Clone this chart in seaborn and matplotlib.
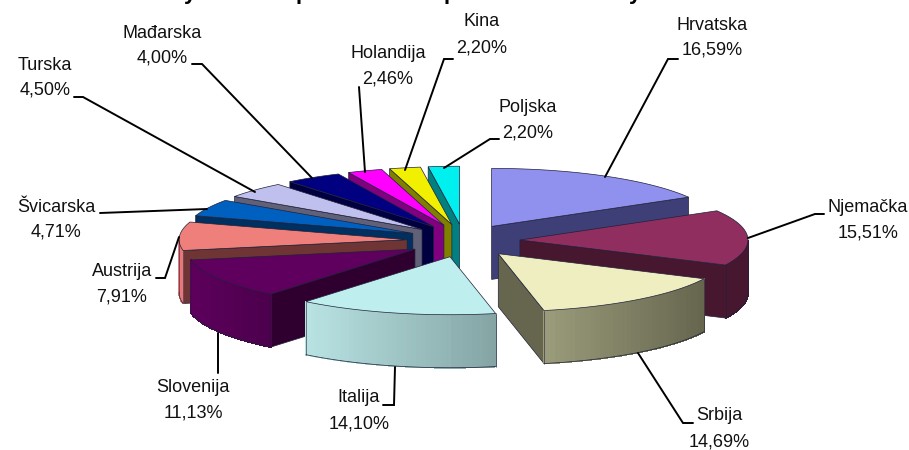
import numpy as np
import matplotlib
matplotlib.use('Agg')
import matplotlib.pyplot as plt
import seaborn as sns

countries = ['Hrvatska', 'Njemačka', 'Srbija', 'Italija', 'Slovenija', 'Austrija',
             'Švicarska', 'Turska', 'Mađarska', 'Holandija', 'Kina', 'Poljska']
shares = [16.59, 15.51, 14.69, 14.10, 11.13, 7.91, 4.71, 4.50, 4.00, 2.46, 2.20, 2.20]

top_colors = ['#9090ee', '#8f2e5f', '#eeeec0', '#bfeeee', '#5f005f', '#ee7f7a',
              '#0060c0', '#c0c0ee', '#000080', '#ff00ff', '#f0f000', '#00f0f0']
wall_colors = ['#3f3f77', '#47172f', '#66664f', '#7f9f9f', '#2f002f', '#6f3535',
               '#003060', '#606078', '#000040', '#800080', '#808000', '#008080']
rim_left = ['#3f3f77', '#47172f', '#9a9b7a', '#b8e2e2', '#5c005c', '#e57878',
            '#003060', '#606078', '#000040', '#800080', '#808000', '#008080']
rim_right = ['#3f3f77', '#47172f', '#66664f', '#85a5a5', '#4c004c', '#e57878',
             '#003060', '#606078', '#000040', '#800080', '#808000', '#008080']

# label centres (x, first line y, second line y)
label_pos = [(712, 25, 50), (868, 207, 233), (719, 415, 442), (359, 398, 424),
             (193, 388, 413), (122, 272, 297), (56, 207, 232), (45, 65, 90),
             (162, 33, 58), (388, 53, 79), (482, 22, 48), (528, 107, 133)]
leaders = [[(678, 59), (668, 59), (605, 177)],
           [(824, 214), (815, 214), (748, 238)],
           [(693, 423), (683, 423), (638, 353)],
           [(383, 405), (394, 405), (395, 367)],
           [(218, 373), (218, 333)],
           [(156, 278), (165, 278), (179, 237)],
           [(100, 213), (207, 209)],
           [(74, 97), (83, 97), (255, 192)],
           [(192, 64), (202, 64), (312, 178)],
           [(359, 87), (365, 172)],
           [(453, 59), (444, 59), (405, 170)],
           [(499, 139), (490, 139), (444, 168)]]
# only the descenders of the title are left in the picture
title_bits = [(190, 'y'), (302, 'p'), (450, 'p'), (635, 'y')]

CX, CY = 463.5, 240.7
RX, RY = 228, 58
EX, EY = 56.5, 16.5
DEPTH = 53
EDGE = '#20203a'

sns.set_theme(style='white')
plt.rcParams['font.family'] = ['Liberation Sans', 'DejaVu Sans']

fig = plt.figure(figsize=(9.09, 4.5), dpi=100)
ax = fig.add_axes([0, 0, 1, 1])
ax.set_xlim(0, 909)
ax.set_ylim(450, 0)
ax.axis('off')


def rim_point(apex, theta):
    return apex[0] + RX * np.sin(theta), apex[1] - RY * np.cos(theta)


def draw_wall(apex, theta, color):
    x, y = rim_point(apex, theta)
    ax.fill([apex[0], x, x, apex[0]], [apex[1], y, y + DEPTH, apex[1] + DEPTH],
            facecolor=color, edgecolor=EDGE, linewidth=0.5)


def draw_rim(apex, t0, t1, left, right):
    # only the part of the outer wall that faces the viewer
    a, b = max(t0, np.pi / 2), min(t1, 3 * np.pi / 2)
    if a >= b:
        return
    angles = np.linspace(a, b, 41)
    xs, ys = rim_point(apex, angles)
    pal = sns.blend_palette([left, right], 40)
    span = max(xs.max() - xs.min(), 1)
    for i in range(40):
        mid = (xs[i] + xs[i + 1]) / 2
        c = pal[min(int((mid - xs.min()) / span * 40), 39)]
        ax.fill([xs[i], xs[i + 1], xs[i + 1], xs[i]],
                [ys[i], ys[i + 1], ys[i + 1] + DEPTH, ys[i] + DEPTH],
                facecolor=c, edgecolor=c, linewidth=0.6, antialiased=False)
    ax.plot(xs, ys + DEPTH, color=EDGE, linewidth=0.5)
    ax.plot([xs[0], xs[0]], [ys[0], ys[0] + DEPTH], color=EDGE, linewidth=0.4)
    ax.plot([xs[-1], xs[-1]], [ys[-1], ys[-1] + DEPTH], color=EDGE, linewidth=0.4)


bounds = np.cumsum([0] + shares) / sum(shares) * 2 * np.pi
mids = (bounds[:-1] + bounds[1:]) / 2
# paint from the back of the pie to the front
order = np.argsort(-np.cos(mids))

for i in order:
    t0, t1 = bounds[i], bounds[i + 1]
    apex = (CX + EX * np.sin(mids[i]), CY - EY * np.cos(mids[i]))
    if np.sin(t0) < 0:
        draw_wall(apex, t0, wall_colors[i])
    if np.sin(t1) > 0:
        draw_wall(apex, t1, wall_colors[i])
    draw_rim(apex, t0, t1, rim_left[i], rim_right[i])
    arc = np.linspace(t0, t1, 60)
    xs, ys = rim_point(apex, arc)
    ax.fill(np.r_[apex[0], xs], np.r_[apex[1], ys], facecolor=top_colors[i],
            edgecolor=EDGE, linewidth=0.5)

for i, name in enumerate(countries):
    pts = np.array(leaders[i])
    ax.plot(pts[:, 0], pts[:, 1], color='black', linewidth=1.4, solid_joinstyle='miter')
    x, y1, y2 = label_pos[i]
    share_text = f'{shares[i]:.2f}%'.replace('.', ',')
    ax.text(x, y1, name, ha='center', va='center', fontsize=13, color='#111111')
    ax.text(x, y2, share_text, ha='center', va='center', fontsize=13, color='#111111')

for x, ch in title_bits:
    ax.text(x, -1, ch, ha='center', va='baseline', fontsize=16, fontweight='bold',
            color='black', clip_on=False)

fig.savefig('out.png', dpi=100, facecolor='white')
